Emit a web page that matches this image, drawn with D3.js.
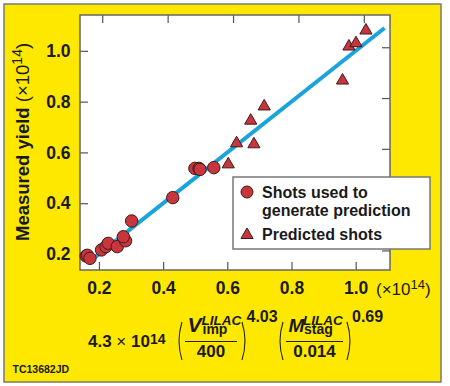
<!DOCTYPE html>
<meta charset="utf-8">
<style>
body { margin: 0; background: #fff; }
text { font-family: "Liberation Sans", Arial, Helvetica, sans-serif; fill: #1a1a1a; }
.tick text { font-weight: bold; font-size: 17.5px; fill: #1a1a1a; }
.tick line { stroke: #555; stroke-width: 1.2; }
</style>
<svg width="450" height="386"></svg>
<script src="https://d3js.org/d3.v7.min.js"></script>
<script>

// shots used to generate prediction: [predicted, measured] (x1e14)
var usedX = [0.160, 0.164, 0.172, 0.208, 0.222, 0.229, 0.257, 0.283, 0.276, 0.302, 0.430, 0.499, 0.512, 0.515, 0.558];
var usedY = [0.192, 0.195, 0.183, 0.216, 0.229, 0.242, 0.229, 0.252, 0.268, 0.330, 0.422, 0.537, 0.537, 0.533, 0.540];
// predicted shots
var predX = [0.603, 0.629, 0.673, 0.683, 0.715, 0.959, 0.979, 1.001, 1.032];
var predY = [0.553, 0.636, 0.725, 0.632, 0.781, 0.883, 1.017, 1.030, 1.080];
var fitLine = [0.18, 1.09];
var tickValues = [0.2, 0.4, 0.6, 0.8, 1.0];

var svg = d3.select("svg");

// frame
svg.append("rect").attr("x", 4).attr("y", 4).attr("width", 437).attr("height", 378)
    .attr("fill", "#ffe800").attr("stroke", "#7a7a6a").attr("stroke-width", 1.5);

var pL = 80, pR = 390, pT = 15, pB = 270;
var x = d3.scaleLinear().domain([0.141, 1.107]).range([pL, pR]);
var y = d3.scaleLinear().domain([0.137, 1.141]).range([pB, pT]);
// mirrored ticks sit slightly shifted in the original
var xTop = d3.scaleLinear().domain([0.132, 1.080]).range([pL, pR]);
var yRight = d3.scaleLinear().domain([0.123, 1.127]).range([pB, pT]);

svg.append("rect").attr("x", pL).attr("y", pT)
    .attr("width", pR - pL).attr("height", pB - pT)
    .attr("fill", "#fff");

svg.append("g").attr("transform", "translate(0," + pB + ")")
    .call(d3.axisBottom(x).tickValues(tickValues).tickSizeInner(-8).tickSizeOuter(0)
      .tickPadding(11.5).tickFormat(d3.format(".1f")))
    .call(function(g) { g.select(".domain").remove(); });
svg.append("g").attr("transform", "translate(" + pL + ",0)")
    .call(d3.axisLeft(y).tickValues(tickValues).tickSizeInner(-8).tickSizeOuter(0)
      .tickPadding(9.5).tickFormat(d3.format(".1f")))
    .call(function(g) { g.select(".domain").remove(); });
svg.append("g").attr("transform", "translate(0," + pT + ")")
    .call(d3.axisTop(xTop).tickValues(tickValues).tickSizeInner(-8).tickSizeOuter(0).tickFormat(""))
    .call(function(g) { g.select(".domain").remove(); });
svg.append("g").attr("transform", "translate(" + pR + ",0)")
    .call(d3.axisRight(yRight).tickValues(tickValues).tickSizeInner(-8).tickSizeOuter(0).tickFormat(""))
    .call(function(g) { g.select(".domain").remove(); });

svg.append("rect").attr("x", pL).attr("y", pT)
    .attr("width", pR - pL).attr("height", pB - pT)
    .attr("fill", "none").attr("stroke", "#666").attr("stroke-width", 1.5);

// fit line
svg.append("line")
    .attr("x1", x(fitLine[0])).attr("y1", y(fitLine[0]))
    .attr("x2", x(fitLine[1])).attr("y2", y(fitLine[1]))
    .attr("stroke", "#1ba3dc").attr("stroke-width", 4);

var markFill = "#c9353c", markStroke = "#3b1b1b";

svg.append("g").selectAll("circle")
    .data(usedX)
  .enter().append("circle")
    .attr("cx", function(d) { return x(d); })
    .attr("cy", function(d, i) { return y(usedY[i]); })
    .attr("r", 6.2)
    .attr("fill", markFill).attr("stroke", markStroke).attr("stroke-width", 1);

var tri = d3.symbol().type(d3.symbolTriangle).size(64);
svg.append("g").selectAll("path")
    .data(predX)
  .enter().append("path")
    .attr("d", tri)
    .attr("transform", function(d, i) { return "translate(" + x(d) + "," + y(predY[i]) + ")"; })
    .attr("fill", markFill).attr("stroke", markStroke).attr("stroke-width", 1);

// legend
var lg = svg.append("g");
lg.append("rect").attr("x", 233).attr("y", 177).attr("width", 197).attr("height", 72)
    .attr("fill", "#fff").attr("stroke", "#777").attr("stroke-width", 1.5);
lg.append("circle").attr("cx", 247).attr("cy", 192).attr("r", 6)
    .attr("fill", markFill).attr("stroke", markStroke);
lg.append("path").attr("d", tri).attr("transform", "translate(247,235)")
    .attr("fill", markFill).attr("stroke", markStroke);
lg.selectAll("text.l")
    .data([["Shots used to", 198], ["generate prediction", 216], ["Predicted shots", 240]])
  .enter().append("text")
    .attr("x", 262).attr("y", function(d) { return d[1]; })
    .style("font-size", "16px").style("font-weight", "bold")
    .text(function(d) { return d[0]; });

// x unit
var xu = svg.append("text").attr("x", 376).attr("y", 295).style("font-size", "17px");
xu.append("tspan").text("(\u00d710");
xu.append("tspan").attr("dy", -6).style("font-size", "13px").text("14");
xu.append("tspan").attr("dy", 6).text(")");

// y title
var yt = svg.append("text").attr("transform", "translate(29,241) rotate(-90)").style("font-size", "18.5px");
yt.append("tspan").style("font-weight", "bold").text("Measured yield ");
yt.append("tspan").text("(\u00d710");
yt.append("tspan").attr("dy", -7).style("font-size", "14px").text("14");
yt.append("tspan").attr("dy", 7).text(")");

// formula
var f = svg.append("g").style("font-weight", "bold");
var t1 = f.append("text").attr("x", 88).attr("y", 347).style("font-size", "17px");
t1.append("tspan").text("4.3 ");
t1.append("tspan").style("font-weight", "normal").text("\u00d7");
t1.append("tspan").text(" 10");
t1.append("tspan").attr("dy", -3.5).style("font-size", "14px").text("14");

function paren(x0, dir) {
  var y0 = 322, y1 = 360, bulge = 6 * dir;
  f.append("path")
      .attr("d", "M" + x0 + "," + y0 + " Q" + (x0 - bulge) + "," + ((y0 + y1) / 2) + " " + x0 + "," + y1)
      .attr("fill", "none").attr("stroke", "#222").attr("stroke-width", 1.1);
}
function frac(x0, x1, big, bigSize, supX, sup, sub, den) {
  f.append("text").attr("x", x0 + 2.5).attr("y", 332).style("font-size", bigSize + "px")
      .style("font-style", "italic").text(big);
  f.append("text").attr("x", x0 + supX).attr("y", 325).style("font-size", "13.5px")
      .style("font-style", "italic").text(sup);
  f.append("text").attr("x", x0 + supX + 1).attr("y", 334).style("font-size", "14px").text(sub);
  f.append("line").attr("x1", x0).attr("x2", x1).attr("y1", 341.5).attr("y2", 341.5)
      .attr("stroke", "#222").attr("stroke-width", 1);
  f.append("text").attr("x", (x0 + x1) / 2).attr("y", 357).attr("text-anchor", "middle")
      .style("font-size", "17px").text(den);
}
paren(182, 1);
frac(185, 237, "V", 21, 16.5, "LILAC", "imp", "400");
paren(242, -1);
f.append("text").attr("x", 246.5).attr("y", 322).style("font-size", "16px").text("4.03");
paren(283, 1);
frac(286, 343, "M", 19, 17, "LILAC", "stag", "0.014");
paren(347, -1);
f.append("text").attr("x", 352).attr("y", 322).style("font-size", "16px").text("0.69");

svg.append("text").attr("x", 12.5).attr("y", 373).style("font-size", "10.5px")
    .style("font-weight", "bold").text("TC13682JD");

</script>
